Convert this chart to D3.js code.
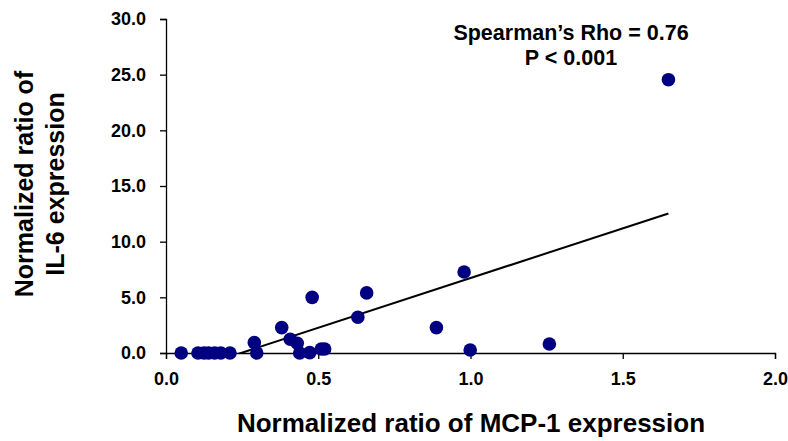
<!DOCTYPE html>
<html>
<head>
<meta charset="utf-8">
<script src="https://cdn.jsdelivr.net/npm/d3@7"></script>
<style>
  body { margin: 0; background: #fff; }
  svg { display: block; font-family: "Liberation Sans", Arial, sans-serif; }
  .axis path, .axis line { stroke: #000; stroke-width: 1.3; }
  .axis text { font-weight: bold; fill: #000; }
</style>
</head>
<body>
<div id="chart"></div>
<script>
"use strict";
// MCP-1 (x) vs IL-6 (y) normalized ratios
let mcp1 = [0.05, 0.105, 0.125, 0.14, 0.16, 0.18, 0.21, 0.29, 0.298, 0.38, 0.408, 0.431, 0.439,
    0.472, 0.48, 0.51, 0.521, 0.63, 0.659, 0.888, 0.979, 0.999, 1.259, 1.65];
let il6 = [0, 0, 0, 0, 0, 0, 0, 0.93, 0, 2.28, 1.24, 0.87, 0,
    0.03, 5.0, 0.36, 0.36, 3.21, 5.4, 2.28, 7.28, 0.27, 0.81, 24.55];
let xTicks = [0, 0.5, 1.0, 1.5, 2.0];
let yTicks = [0, 5, 10, 15, 20, 25, 30];
let trend = {slope: 8.93, intercept: -2.2};
let statLines = ["Spearman\u2019s Rho = 0.76", "P < 0.001"];

let dimensions = {width: 788, height: 441};
let margin = {top: 19, right: 13, bottom: 88, left: 166};
let width = dimensions.width - margin.left - margin.right,
    height = dimensions.height - margin.top - margin.bottom;

let svg = d3.select("#chart").append("svg")
    .attr("width", dimensions.width)
    .attr("height", dimensions.height);

let chart = svg.append("g")
    .attr("transform", "translate(" + margin.left + "," + margin.top + ")");

let x = d3.scaleLinear().domain([0, 2]).range([0, width]);
let y = d3.scaleLinear().domain([0, 30]).range([height, 0]);

// axes
chart.append("g")
    .attr("class", "axis")
    .attr("transform", "translate(0," + height + ")")
    .call(d3.axisBottom(x).tickValues(xTicks).tickFormat(d3.format(".1f"))
        .tickSize(6).tickPadding(13))
    .selectAll("text").style("font-size", "18px");

chart.append("g")
    .attr("class", "axis")
    .call(d3.axisLeft(y).tickValues(yTicks).tickFormat(d3.format(".1f"))
        .tickSize(6).tickPadding(14))
    .selectAll("text").style("font-size", "18px");

// trend line, clipped to plot area
chart.append("clipPath").attr("id", "plot-clip")
    .append("rect").attr("width", width).attr("height", height);

let xMin = d3.min(mcp1), xMax = d3.max(mcp1);
chart.append("line")
    .attr("clip-path", "url(#plot-clip)")
    .attr("x1", x(xMin)).attr("y1", y(trend.slope * xMin + trend.intercept))
    .attr("x2", x(xMax)).attr("y2", y(trend.slope * xMax + trend.intercept))
    .style("stroke", "#000")
    .style("stroke-width", 2);

// dots
chart.append("g")
    .selectAll("circle")
    .data(mcp1.map((v, i) => ({x: v, y: il6[i]})))
    .enter()
    .append("circle")
    .attr("cx", d => x(d.x))
    .attr("cy", d => y(d.y))
    .attr("r", 6.8)
    .style("fill", "#000080");

// stats annotation
svg.append("text")
    .attr("x", 571).attr("y", 40)
    .style("text-anchor", "middle")
    .style("font-size", "21.5px").style("font-weight", "bold")
    .selectAll("tspan")
    .data(statLines)
    .enter().append("tspan")
    .attr("x", 571)
    .attr("dy", (d, i) => i === 0 ? 0 : 25)
    .text(d => d);

// axis titles
svg.append("text")
    .attr("x", 471).attr("y", 432)
    .style("text-anchor", "middle")
    .style("font-size", "26px").style("font-weight", "bold")
    .text("Normalized ratio of MCP-1 expression");

svg.append("text")
    .attr("transform", "translate(33,184) rotate(-90)")
    .style("text-anchor", "middle")
    .style("font-size", "25px").style("font-weight", "bold")
    .text("Normalized ratio of");

svg.append("text")
    .attr("transform", "translate(64,184) rotate(-90)")
    .style("text-anchor", "middle")
    .style("font-size", "25px").style("font-weight", "bold")
    .text("IL-6 expression");
</script>
</body>
</html>
